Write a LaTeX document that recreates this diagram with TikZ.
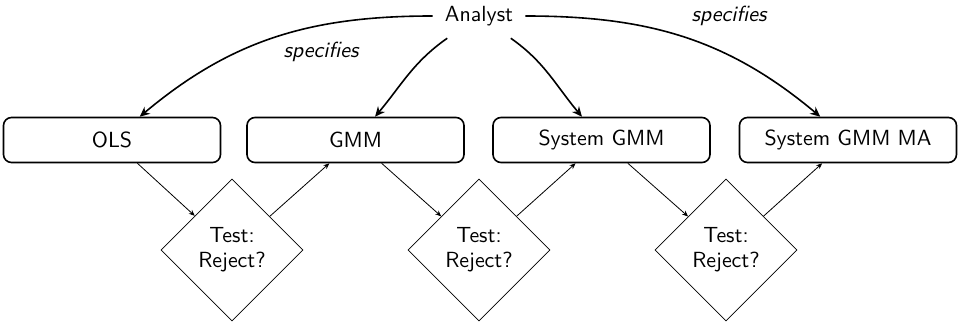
\documentclass[tikz,border=0pt]{standalone}
\usetikzlibrary{shapes.geometric,arrows.meta}
\begin{document}
\begin{tikzpicture}[x=0.5pt,y=-0.5pt,font=\fontsize{10.95}{12.5}\selectfont\sffamily,
  model/.style={draw,thick,rounded corners=4pt,minimum width=108.5pt,minimum height=22.5pt,inner sep=2pt},
  test/.style={draw,diamond,aspect=1,minimum width=71pt,minimum height=71pt,inner sep=0pt,align=center},
  who/.style={inner sep=6pt},
  spec/.style={font=\fontsize{10.95}{12.5}\selectfont\sffamily\itshape},
  bigarrow/.style={thick,-{Stealth[length=5pt,width=4.5pt]}},
  smallarrow/.style={-{Stealth[length=3pt,width=2.5pt]}}]
\useasboundingbox (0,0) rectangle (958,325);
\node[who] (analyst) at (479,16) {Analyst};
\node[model] (ols) at (112,140) {OLS};
\node[model] (gmm) at (355.5,140) {GMM};
\node[model] (sgmm) at (601.5,140) {System GMM};
\node[model] (sgmma) at (848,140) {System GMM MA};
\node[test] (t1) at (232,250) {Test:\\Reject?};
\node[test] (t2) at (479,250) {Test:\\Reject?};
\node[test] (t3) at (726,250) {Test:\\Reject?};
\node[spec] (s1) at (321,52) {specifies};
\node[spec] (s2) at (729,16) {specifies};
\draw[bigarrow] (analyst) to[out=180,in=40] (ols);
\draw[bigarrow] (analyst) to[out=215,in=50] (gmm);
\draw[bigarrow] (analyst) to[out=-35,in=130] (sgmm);
\draw[bigarrow] (analyst) to[out=0,in=140] (sgmma);
\draw[smallarrow] (ols) -- (t1);
\draw[smallarrow] (t1) -- (gmm);
\draw[smallarrow] (gmm) -- (t2);
\draw[smallarrow] (t2) -- (sgmm);
\draw[smallarrow] (sgmm) -- (t3);
\draw[smallarrow] (t3) -- (sgmma);
\end{tikzpicture}
\end{document}
